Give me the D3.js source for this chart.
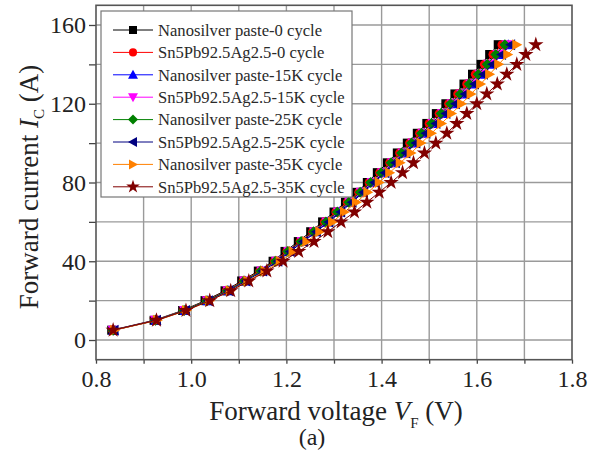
<!DOCTYPE html>
<html>
<head>
<meta charset="utf-8">
<script src="https://cdn.jsdelivr.net/npm/d3@7"></script>
<style>
  html, body { margin: 0; padding: 0; background: #fff; }
  text { font-family: "Liberation Serif", "DejaVu Serif", serif; }
</style>
</head>
<body>
<svg id="chart" width="597" height="457"></svg>
<script>
// Forward current levels (A), shared by every curve
const currents = [5, 10, 15, 20, 25, 30, 35, 40, 45, 50, 55, 60, 65, 70, 75, 80,
                  85, 90, 95, 100, 105, 110, 115, 120, 125, 130, 135, 140, 145, 150];

// Forward voltage (V) at each current level, one array per sample/cycle count
const nanosilver0 = [0.833, 0.922, 0.982, 1.029, 1.071, 1.106, 1.141, 1.172, 1.197, 1.225,
                     1.251, 1.276, 1.300, 1.324, 1.348, 1.370, 1.391, 1.412, 1.433, 1.454,
                     1.475, 1.495, 1.515, 1.535, 1.554, 1.573, 1.591, 1.609, 1.627, 1.645];
const snpbag0 = [0.835, 0.924, 0.984, 1.032, 1.074, 1.109, 1.144, 1.175, 1.201, 1.229,
                 1.255, 1.280, 1.304, 1.328, 1.352, 1.374, 1.396, 1.417, 1.438, 1.459,
                 1.480, 1.500, 1.521, 1.541, 1.560, 1.579, 1.597, 1.616, 1.634, 1.653];
const nanosilver15 = [0.837, 0.926, 0.987, 1.035, 1.078, 1.113, 1.149, 1.180, 1.206, 1.234,
                      1.261, 1.286, 1.311, 1.335, 1.359, 1.382, 1.404, 1.425, 1.447, 1.468,
                      1.489, 1.510, 1.531, 1.551, 1.571, 1.590, 1.609, 1.628, 1.647, 1.666];
const snpbag15 = [0.836, 0.925, 0.986, 1.034, 1.077, 1.112, 1.148, 1.179, 1.205, 1.233,
                  1.259, 1.285, 1.309, 1.333, 1.357, 1.380, 1.402, 1.423, 1.445, 1.466,
                  1.487, 1.508, 1.528, 1.548, 1.568, 1.587, 1.606, 1.625, 1.644, 1.663];
const nanosilver25 = [0.836, 0.925, 0.985, 1.033, 1.076, 1.111, 1.146, 1.177, 1.203, 1.231,
                      1.257, 1.283, 1.307, 1.331, 1.355, 1.377, 1.399, 1.420, 1.442, 1.463,
                      1.484, 1.505, 1.525, 1.545, 1.565, 1.584, 1.603, 1.622, 1.640, 1.659];
const snpbag25 = [0.838, 0.927, 0.988, 1.036, 1.079, 1.115, 1.150, 1.182, 1.208, 1.236,
                  1.263, 1.289, 1.314, 1.338, 1.362, 1.385, 1.407, 1.429, 1.451, 1.472,
                  1.493, 1.514, 1.535, 1.555, 1.575, 1.595, 1.614, 1.633, 1.652, 1.671];
const nanosilver35 = [0.839, 0.929, 0.990, 1.039, 1.082, 1.119, 1.155, 1.187, 1.214, 1.243,
                      1.270, 1.297, 1.322, 1.347, 1.371, 1.395, 1.417, 1.439, 1.462, 1.483,
                      1.505, 1.526, 1.547, 1.568, 1.588, 1.608, 1.627, 1.646, 1.665, 1.684];
const snpbag35 = [0.836, 0.927, 0.989, 1.039, 1.083, 1.121, 1.159, 1.193, 1.226, 1.258,
                  1.287, 1.315, 1.343, 1.369, 1.395, 1.420, 1.444, 1.467, 1.490, 1.514,
                  1.537, 1.558, 1.579, 1.600, 1.621, 1.643, 1.663, 1.684, 1.703, 1.724];

const seriesNames = ["Nanosilver paste-0 cycle", "Sn5Pb92.5Ag2.5-0 cycle",
                     "Nanosilver paste-15K cycle", "Sn5Pb92.5Ag2.5-15K cycle",
                     "Nanosilver paste-25K cycle", "Sn5Pb92.5Ag2.5-25K cycle",
                     "Nanosilver paste-35K cycle", "Sn5Pb92.5Ag2.5-35K cycle"];
const seriesValues = [nanosilver0, snpbag0, nanosilver15, snpbag15,
                      nanosilver25, snpbag25, nanosilver35, snpbag35];
const seriesColors = ["#000000", "#ff0000", "#0000ff", "#ff00ff",
                      "#008000", "#000080", "#ff8000", "#800000"];
const seriesShapes = ["square", "circle", "up", "down", "diamond", "left", "right", "star"];

const xTicks = [0.8, 1.0, 1.2, 1.4, 1.6, 1.8];
const yTicks = [0, 40, 80, 120, 160];

const svg = d3.select("#chart");
svg.append("rect").attr("width", 597).attr("height", 457).attr("fill", "#fff");

const x = d3.scaleLinear().domain([0.8, 1.8]).range([96, 572]);
const y = d3.scaleLinear().domain([-10, 170]).range([359.7, 5.3]);

// grid
const grid = svg.append("g").attr("stroke", "#9a9a9a").attr("stroke-width", 1.4);
d3.range(0.9, 1.75, 0.1).forEach(v => {
  grid.append("line").attr("x1", x(v)).attr("x2", x(v))
    .attr("y1", y.range()[0]).attr("y2", y.range()[1]);
});
d3.range(0, 161, 20).forEach(v => {
  grid.append("line").attr("y1", y(v)).attr("y2", y(v))
    .attr("x1", x.range()[0]).attr("x2", x.range()[1]);
});

// axes
const xAxis = d3.axisBottom(x).tickValues(d3.range(0.8, 1.85, 0.1)).tickSize(4)
  .tickFormat(d => xTicks.some(t => Math.abs(t - d) < 1e-6) ? d3.format(".1f")(d) : "");
const gx = svg.append("g").attr("transform", `translate(0,${y.range()[0]})`).call(xAxis);
const yAxis = d3.axisLeft(y).tickValues(d3.range(0, 161, 20)).tickSize(7)
  .tickFormat(d => yTicks.includes(d) ? d : "");
const gy = svg.append("g").attr("transform", `translate(${x.range()[0]},0)`).call(yAxis);
[gx, gy].forEach(g => {
  g.select(".domain").remove();
  g.selectAll(".tick line").attr("stroke", "#444").attr("stroke-width", 1.3);
  g.selectAll(".tick text").attr("fill", "#222").attr("font-size", 24)
    .attr("font-family", "Liberation Serif, serif");
});
gx.selectAll(".tick text").attr("dy", "0.9em").attr("y", 6);
gy.selectAll(".tick text").attr("x", -10).attr("dy", "0.33em");

// frame
svg.append("rect")
  .attr("x", x.range()[0]).attr("y", y.range()[1])
  .attr("width", x.range()[1] - x.range()[0]).attr("height", y.range()[0] - y.range()[1])
  .attr("fill", "none").attr("stroke", "#555").attr("stroke-width", 1.6);

// marker symbols
function markerPath(shape, s) {
  const h = s / 2;
  switch (shape) {
    case "square": return `M${-h},${-h}H${h}V${h}H${-h}Z`;
    case "circle": return d3.symbol(d3.symbolCircle, s * s * 0.8)();
    case "up": return `M0,${-h - 1}L${h + 1},${h}L${-h - 1},${h}Z`;
    case "down": return `M0,${h + 1}L${h + 1},${-h}L${-h - 1},${-h}Z`;
    case "diamond": return `M0,${-h - 1}L${h + 1},0L0,${h + 1}L${-h - 1},0Z`;
    case "left": return `M${-h - 1},0L${h},${-h - 1}L${h},${h + 1}Z`;
    case "right": return `M${h + 1},0L${-h},${-h - 1}L${-h},${h + 1}Z`;
    case "star": return d3.symbol(d3.symbolStar, s * s * 0.9)();
  }
}

const line = d3.line().x(d => x(d[0])).y(d => y(d[1]));
const plot = svg.append("g");
seriesValues.forEach((vals, i) => {
  const pts = vals.map((v, j) => [v, currents[j]]);
  const g = plot.append("g");
  g.append("path").attr("d", line(pts)).attr("fill", "none")
    .attr("stroke", seriesColors[i]).attr("stroke-width", 1);
  g.selectAll("path.m").data(pts).enter().append("path").attr("class", "m")
    .attr("transform", d => `translate(${x(d[0])},${y(d[1])})`)
    .attr("d", markerPath(seriesShapes[i], 9))
    .attr("fill", seriesColors[i]);
});

// legend
const lg = svg.append("g");
lg.append("rect").attr("x", 101).attr("y", 11).attr("width", 251).attr("height", 186)
  .attr("fill", "#fff").attr("stroke", "#777").attr("stroke-width", 1.2);
seriesNames.forEach((name, i) => {
  const cy = 30 + i * 22.4;
  lg.append("line").attr("x1", 113).attr("x2", 153).attr("y1", cy).attr("y2", cy)
    .attr("stroke", seriesColors[i]).attr("stroke-width", 1);
  lg.append("path").attr("transform", `translate(133,${cy})`)
    .attr("d", markerPath(seriesShapes[i], 8)).attr("fill", seriesColors[i]);
  lg.append("text").attr("x", 158).attr("y", cy).attr("dy", "0.35em")
    .attr("font-size", 16.6).attr("fill", "#2a2a2a").text(name);
});

// axis titles
const xt = svg.append("text").attr("x", 336).attr("y", 420)
  .attr("text-anchor", "middle").attr("font-size", 27).attr("fill", "#222");
xt.append("tspan").text("Forward voltage ");
xt.append("tspan").attr("font-style", "italic").text("V");
xt.append("tspan").attr("font-size", 15).attr("dy", 8).text("F");
xt.append("tspan").attr("dy", -8).text(" (V)");

svg.append("text").attr("x", 312).attr("y", 445).attr("text-anchor", "middle")
  .attr("font-size", 24).attr("fill", "#222").text("(a)");

const yt = svg.append("text")
  .attr("transform", "translate(38,187) rotate(-90)")
  .attr("text-anchor", "middle").attr("font-size", 27).attr("fill", "#222");
yt.append("tspan").text("Forward current ");
yt.append("tspan").attr("font-style", "italic").text("I");
yt.append("tspan").attr("font-size", 15).attr("dy", 6).text("C");
yt.append("tspan").attr("dy", -6).text(" (A)");
</script>
</body>
</html>
